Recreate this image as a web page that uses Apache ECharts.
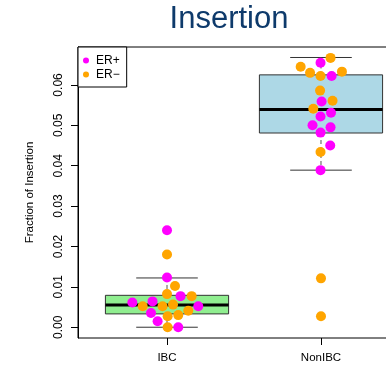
<!DOCTYPE html>
<html>
<head>
<meta charset="utf-8">
<script src="https://cdn.jsdelivr.net/npm/echarts@6/dist/echarts.min.js"></script>
<style>
  html, body { margin: 0; padding: 0; background: #fff; }
  #main { width: 386px; height: 370px; }
</style>
</head>
<body>
<div id="main"></div>
<script>
var categories = ['IBC', 'NonIBC'];
var yTicks = [0, 0.01, 0.02, 0.03, 0.04, 0.05, 0.06];

// box statistics per category
var boxMin = [0.0000, 0.0389];
var boxQ1 = [0.0033, 0.0481];
var boxMedian = [0.0055, 0.0539];
var boxQ3 = [0.0079, 0.0625];
var boxMax = [0.0122, 0.0668];
var boxFill = ['#90EE90', '#ADD8E6'];

// beeswarm points (value + horizontal swarm offset, axis units)
var ibcPos = [0.0240, 0.0123, 0.0077, 0.0061, 0.0064, 0.0052, 0.0035, 0.0015, 0.0000];
var ibcPosOff = [0, 0, 0.088, -0.225, -0.094, 0.203, -0.104, -0.061, 0.073];
var ibcNeg = [0.0180, 0.0102, 0.0082, 0.0077, 0.0052, 0.0052, 0.0056, 0.0041, 0.0027, 0.0030, 0.0000];
var ibcNegOff = [0, 0.052, 0, 0.160, -0.158, -0.029, 0.039, 0.138, 0.004, 0.073, 0.004];
var nonPos = [0.0655, 0.0622, 0.0559, 0.0531, 0.0522, 0.0500, 0.0495, 0.0482, 0.0450, 0.0389];
var nonPosOff = [-0.003, 0.069, 0.004, 0.065, -0.003, -0.055, 0.062, -0.003, 0.060, -0.003];
var nonNeg = [0.0667, 0.0645, 0.0630, 0.0622, 0.0633, 0.0586, 0.0561, 0.0541, 0.0434, 0.0121, 0.0027];
var nonNegOff = [0.062, -0.132, -0.071, -0.003, 0.136, -0.006, 0.075, -0.050, -0.003, 0, 0];

function swarm(pos, vals, offs) {
    return vals.map(function (v, i) { return [pos + offs[i], v]; });
}

var boxData = categories.map(function (c, i) {
    return [i + 1, boxMin[i], boxQ1[i], boxMedian[i], boxQ3[i], boxMax[i]];
});

function renderBox(params, api) {
    var x = api.value(0);
    var idx = params.dataIndex;
    var hw = 0.4, cw = 0.2;
    var q1 = api.coord([x - hw, api.value(2)]);
    var q3 = api.coord([x + hw, api.value(4)]);
    var medL = api.coord([x - hw, api.value(3)]);
    var medR = api.coord([x + hw, api.value(3)]);
    var lo = api.coord([x, api.value(1)]);
    var hi = api.coord([x, api.value(5)]);
    var capL = api.coord([x - cw, 0])[0];
    var capR = api.coord([x + cw, 0])[0];
    var lineCol = '#333';
    return {
        type: 'group',
        children: [
            { type: 'line', shape: { x1: hi[0], y1: hi[1], x2: hi[0], y2: q3[1] },
              style: { stroke: '#555', lineWidth: 1, lineDash: [4, 3] } },
            { type: 'line', shape: { x1: lo[0], y1: q1[1], x2: lo[0], y2: lo[1] },
              style: { stroke: '#555', lineWidth: 1, lineDash: [4, 3] } },
            { type: 'line', shape: { x1: capL, y1: hi[1], x2: capR, y2: hi[1] },
              style: { stroke: lineCol, lineWidth: 1 } },
            { type: 'line', shape: { x1: capL, y1: lo[1], x2: capR, y2: lo[1] },
              style: { stroke: lineCol, lineWidth: 1 } },
            { type: 'rect', shape: { x: q1[0], y: q3[1], width: q3[0] - q1[0], height: q1[1] - q3[1] },
              style: { fill: boxFill[idx], stroke: lineCol, lineWidth: 1 } },
            { type: 'line', shape: { x1: medL[0], y1: medL[1], x2: medR[0], y2: medR[1] },
              style: { stroke: '#000', lineWidth: 3 } }
        ]
    };
}

var chart = echarts.init(document.getElementById('main'));
var font = 'Liberation Sans';

var option = {
    backgroundColor: '#fff',
    animation: false,
    textStyle: { fontFamily: font },
    graphic: [{
        type: 'text',
        x: 229,
        y: 19,
        style: {
            text: 'Insertion',
            font: '31px "Liberation Sans"',
            fill: '#0e3a6b',
            textAlign: 'center',
            textVerticalAlign: 'middle'
        }
    }],
    legend: {
        left: 78,
        top: 47,
        orient: 'vertical',
        data: ['ER+', 'ER\u2212'],
        icon: 'circle',
        itemWidth: 10,
        itemHeight: 6,
        itemGap: 1,
        padding: [7, 7, 6, 5],
        borderColor: '#000',
        borderWidth: 1,
        borderRadius: 0,
        backgroundColor: '#fff',
        textStyle: { fontSize: 12, lineHeight: 13, color: '#000', fontFamily: font }
    },
    grid: {
        left: 78,
        top: 47,
        width: 332,
        bottom: 32,
        outerBoundsMode: 'none',
        containLabel: false,
        show: true,
        borderColor: '#000',
        borderWidth: 1
    },
    xAxis: {
        type: 'value',
        min: 0.422,
        max: 2.578,
        axisLine: { show: false, onZero: false },
        splitLine: { show: false },
        axisTick: { show: true, length: 7, customValues: [1, 2], lineStyle: { color: '#000' } },
        axisLabel: {
            customValues: [1, 2],
            margin: 14,
            fontSize: 11.5,
            color: '#000',
            formatter: function (v) { return categories[Math.round(v) - 1]; }
        }
    },
    yAxis: {
        type: 'value',
        min: -0.00267,
        max: 0.0694,
        name: 'Fraction of Insertion',
        nameLocation: 'middle',
        nameGap: 42,
        nameTextStyle: { fontSize: 11.5, color: '#000' },
        axisLine: { show: true, onZero: false, lineStyle: { color: '#000' } },
        splitLine: { show: false },
        axisTick: { show: true, length: 7, customValues: yTicks, lineStyle: { color: '#000' } },
        axisLabel: {
            customValues: yTicks,
            rotate: 90,
            margin: 13,
            fontSize: 12,
            color: '#000',
            formatter: function (v) { return v.toFixed(2); }
        }
    },
    series: [
        {
            type: 'custom',
            name: 'box',
            renderItem: renderBox,
            encode: { x: 0, y: [1, 2, 3, 4, 5] },
            data: boxData,
            z: 1
        },
        {
            type: 'scatter',
            name: 'ER\u2212',
            symbolSize: 10,
            itemStyle: { color: '#FFA500', opacity: 1 },
            data: swarm(1, ibcNeg, ibcNegOff).concat(swarm(2, nonNeg, nonNegOff)),
            z: 3
        },
        {
            type: 'scatter',
            name: 'ER+',
            symbolSize: 10,
            itemStyle: { color: '#FF00FF', opacity: 1 },
            data: swarm(1, ibcPos, ibcPosOff).concat(swarm(2, nonPos, nonPosOff)),
            z: 3
        }
    ]
};

chart.setOption(option);
</script>
</body>
</html>
